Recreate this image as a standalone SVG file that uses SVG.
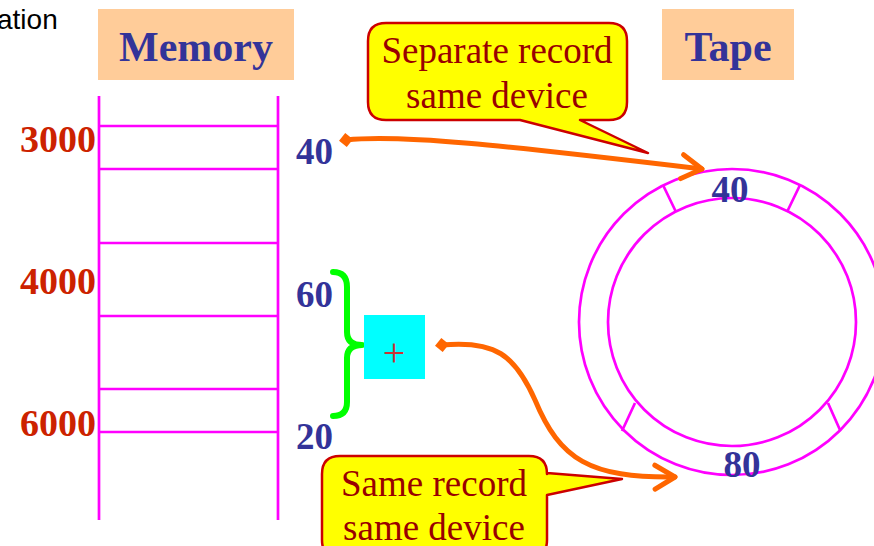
<svg xmlns="http://www.w3.org/2000/svg" width="874" height="546" viewBox="0 0 874 546">
  <style>
    .hdr { fill: #FFCC99; }
    .hdr-t { font-family: "Liberation Serif", serif; font-weight: bold; font-size: 42px; fill: #333399; text-anchor: middle; }
    .addr { font-family: "Liberation Serif", serif; font-weight: bold; font-size: 38px; fill: #CC2200; text-anchor: end; }
    .val { font-family: "Liberation Serif", serif; font-weight: bold; font-size: 37px; fill: #333399; }
    .mem { stroke: #FF00FF; stroke-width: 2.7; fill: none; }
    .call { fill: #FFFF00; stroke: #CC0000; stroke-width: 2.5; stroke-linejoin: round; }
    .call-t { font-family: "Liberation Serif", serif; font-size: 37px; fill: #990000; text-anchor: middle; }
    .link { stroke: #FF6600; stroke-width: 5; fill: none; stroke-linecap: round; }
  </style>
  <defs>
    <marker id="diamond" markerUnits="userSpaceOnUse" markerWidth="16" markerHeight="16" refX="8" refY="8" orient="auto">
      <path d="M1,8 L8,1 L15,8 L8,15 Z" fill="#FF6600"/>
    </marker>
    <marker id="chevron" markerUnits="userSpaceOnUse" markerWidth="32" markerHeight="32" refX="26" refY="16" orient="auto">
      <path d="M6,4 L26,16 L6,28" fill="none" stroke="#FF6600" stroke-width="5" stroke-linecap="round" stroke-linejoin="round"/>
    </marker>
  </defs>

  <rect width="874" height="546" fill="#ffffff"/>

  <text x="-3" y="29" font-family="Liberation Sans, sans-serif" font-size="28" fill="#000000">ation</text>

  <!-- Memory header and storage ladder -->
  <g id="memory">
    <rect class="hdr" x="98" y="9" width="196" height="71"/>
    <text class="hdr-t" x="196" y="61">Memory</text>
    <path class="mem" d="M99,96 V520 M278,96 V520 M99,126 H278 M99,169 H278 M99,243 H278 M99,316 H278 M99,389 H278 M99,432 H278"/>
    <text class="addr" x="96" y="152">3000</text>
    <text class="addr" x="96" y="294">4000</text>
    <text class="addr" x="96" y="436">6000</text>
  </g>

  <g id="value-40"><text class="val" x="296" y="164">40</text></g>
  <g id="value-60"><text class="val" x="296" y="307">60</text></g>
  <g id="value-20"><text class="val" x="296" y="449">20</text></g>

  <!-- Brace joining 60 and 20 -->
  <g id="brace">
    <path d="M333,272 Q347,272 347,287 V332 Q347,345 362,345 Q347,345 347,358 V402 Q347,416 333,416" fill="none" stroke="#00FF00" stroke-width="6" stroke-linecap="round" stroke-linejoin="round"/>
  </g>

  <g id="sum">
    <rect x="364" y="315" width="61" height="64" fill="#00FFFF"/>
    <text x="394" y="366" font-family="Liberation Serif, serif" font-size="40" fill="#CC3333" text-anchor="middle">+</text>
  </g>

  <!-- Tape reel -->
  <g id="tape">
    <rect class="hdr" x="662" y="9" width="132" height="71"/>
    <text class="hdr-t" x="728" y="61">Tape</text>
    <circle class="mem" cx="732" cy="322" r="153"/>
    <circle class="mem" cx="732" cy="322" r="124"/>
    <path class="mem" d="M663,185 L676,212 M800,185 L787,212 M622,431 L635,403 M840,430 L828,403"/>
    <text class="val" x="730" y="202" text-anchor="middle" font-size="35">40</text>
    <text class="val" x="742" y="477" text-anchor="middle" font-size="35">80</text>
  </g>

  <g id="callout-separate">
    <path class="call" d="M386,23 H609 Q627,23 627,41 V102 Q627,120 609,120 H580 L648,153 L520,120 H386 Q368,120 368,102 V41 Q368,23 386,23 Z"/>
    <text class="call-t" x="497" y="63">Separate record</text>
    <text class="call-t" x="497" y="108">same device</text>
  </g>

  <g id="callout-same">
    <path class="call" d="M340,456 H529 Q547,456 547,474 V473 L622,479 L547,495 V540 Q547,558 529,558 H340 Q322,558 322,540 V474 Q322,456 340,456 Z"/>
    <text class="call-t" x="434" y="496">Same record</text>
    <text class="call-t" x="434" y="540">same device</text>
  </g>

  <!-- Connectors -->
  <g id="connectors">
    <path class="link" d="M346,140 C400,134 500,145 702,169" marker-start="url(#diamond)" marker-end="url(#chevron)"/>
    <path class="link" d="M442,345 C495,340 515,355 535,400 C560,460 590,478 675,477" marker-start="url(#diamond)" marker-end="url(#chevron)"/>
  </g>
</svg>
